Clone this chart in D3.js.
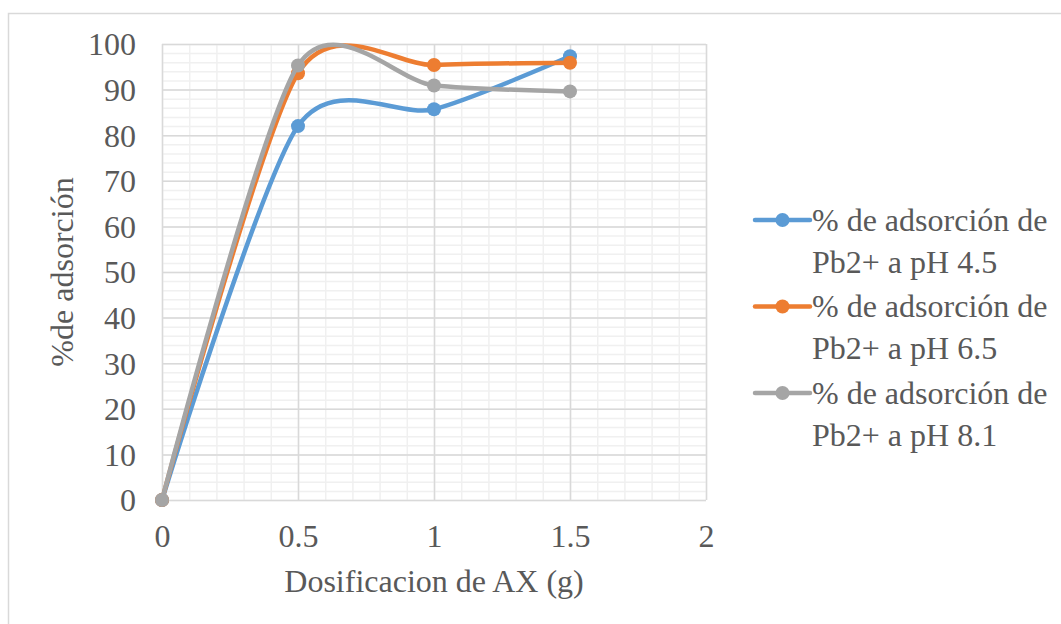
<!DOCTYPE html>
<html lang="es">
<head>
<meta charset="UTF-8">
<script src="https://d3js.org/d3.v7.min.js"></script>
<style>
  body { margin: 0; background: #fff; }
  text { font-family: "Liberation Serif", "Times New Roman", serif; fill: #595959; }
  .grid-major line { stroke: #d9d9d9; stroke-width: 1.5; }
  .grid-minor line { stroke: #f0f0f0; stroke-width: 1.5; }
</style>
</head>
<body>
<div id="chart"></div>
<script>
// datos
var dosis = [0, 0.5, 1, 1.5];
var ph45 = [0, 82.0, 85.7, 97.3];
var ph65 = [0, 93.6, 95.4, 95.9];
var ph81 = [0, 95.3, 90.9, 89.6];
var seriesNames = ["% de adsorción de|Pb2+ a pH 4.5", "% de adsorción de|Pb2+ a pH 6.5", "% de adsorción de|Pb2+ a pH 8.1"];
var colors = ["#5b9bd5", "#ed7d31", "#a5a5a5"];
var xTicks = [0, 0.5, 1, 1.5, 2];
var yTicks = [0, 10, 20, 30, 40, 50, 60, 70, 80, 90, 100];

var W = 1061, H = 624;
var m = {top: 44, left: 162, right: 355, bottom: 124};
var gw = W - m.left - m.right, gh = H - m.top - m.bottom;
var fs = "32px";

var svg = d3.select("#chart").append("svg").attr("width", W).attr("height", H);

// borde del grafico
svg.append("rect").attr("x", 8.5).attr("y", 13.5).attr("width", 1060).attr("height", 700)
   .attr("fill", "none").attr("stroke", "#d9d9d9").attr("stroke-width", 1.5);

var g = svg.append("g").attr("transform", `translate(${m.left},${m.top})`);

var x = d3.scaleLinear().domain([0, 2]).range([0, gw]);
var y = d3.scaleLinear().domain([0, 100]).range([gh, 0]);

// rejilla menor
g.append("g").attr("class", "grid-minor")
  .call(d3.axisLeft(y).tickValues(d3.range(0, 101, 2)).tickSize(-gw).tickFormat(""))
  .call(s => s.select(".domain").remove());
g.append("g").attr("class", "grid-minor")
  .attr("transform", `translate(0,${gh})`)
  .call(d3.axisBottom(x).tickValues(d3.range(0, 21).map(d => d / 10)).tickSize(-gh).tickFormat(""))
  .call(s => s.select(".domain").remove());

// rejilla mayor
g.append("g").attr("class", "grid-major")
  .call(d3.axisLeft(y).tickValues(yTicks).tickSize(-gw).tickFormat(""))
  .call(s => s.select(".domain").remove());
g.append("g").attr("class", "grid-major")
  .attr("transform", `translate(0,${gh})`)
  .call(d3.axisBottom(x).tickValues(xTicks).tickSize(-gh).tickFormat(""))
  .call(s => s.select(".domain").remove());

// etiquetas de ejes
var yAxis = g.append("g").call(d3.axisLeft(y).tickValues(yTicks).tickSize(0).tickPadding(26));
yAxis.select(".domain").remove();
yAxis.selectAll("text").style("font-size", fs).attr("dy", "0.34em");

var xAxis = g.append("g").attr("transform", `translate(0,${gh})`)
  .call(d3.axisBottom(x).tickValues(xTicks).tickSize(0).tickPadding(24).tickFormat(d3.format("")));
xAxis.select(".domain").remove();
xAxis.selectAll("text").style("font-size", fs).attr("dy", "0.71em");

// series
var allSeries = [ph45, ph65, ph81];
var line = d3.line().x((d, i) => x(dosis[i])).y(d => y(d)).curve(d3.curveCardinal.tension(0.2));

allSeries.forEach(function(s, k) {
  g.append("path").attr("d", line(s)).attr("fill", "none")
    .attr("stroke", colors[k]).attr("stroke-width", 4.5).attr("stroke-linecap", "round");
  g.selectAll(".pt" + k).data(s).enter().append("circle")
    .attr("cx", (d, i) => x(dosis[i])).attr("cy", d => y(d)).attr("r", 7)
    .attr("fill", colors[k]);
});

// titulos de ejes
svg.append("text").attr("x", m.left + gw / 2).attr("y", 592)
  .attr("text-anchor", "middle").style("font-size", fs).text("Dosificacion de AX (g)");
svg.append("text").attr("transform", `translate(73,${m.top + gh / 2}) rotate(-90)`)
  .attr("text-anchor", "middle").style("font-size", fs).text("%de adsorción");

// leyenda
var leg = svg.append("g").attr("transform", "translate(755,220)");
seriesNames.forEach(function(n, k) {
  var row = leg.append("g").attr("transform", `translate(0,${k * 86.5})`);
  row.append("line").attr("x1", 0).attr("x2", 55).attr("y1", 0).attr("y2", 0)
    .attr("stroke", colors[k]).attr("stroke-width", 4.5).attr("stroke-linecap", "round");
  row.append("circle").attr("cx", 27.5).attr("cy", 0).attr("r", 7).attr("fill", colors[k]);
  var parts = n.split("|");
  parts.forEach(function(p, j) {
    row.append("text").attr("x", 57).attr("y", j * 42).attr("dy", "0.34em")
      .style("font-size", fs).text(p);
  });
});
</script>
</body>
</html>
